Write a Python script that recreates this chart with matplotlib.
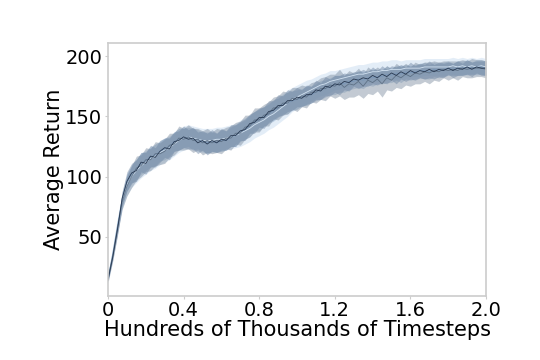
import numpy as np
import matplotlib
matplotlib.use("Agg")
import matplotlib.pyplot as plt

# x positions: hundreds of thousands of timesteps
x = np.linspace(0, 2.0, 81)

mean_navy = [14,33,56,82,96, 103,105,112,111,117, 116,121,124,123,129, 130,133,131,132,128,
             130,127,130,128,131, 130,134,134,138,139, 144,145,149,149,154, 155,159,159,163,163,
             166,165,168,168,172, 171,175,174,177,176, 179,178,181,180,182, 181,184,182,185,183,
             186,184,187,185,188, 186,188,187,189,187, 189,188,190,188,190, 189,191,189,191,190, 190]
mean_gray = [16,34,57,79,92, 100,107,109,114,114, 119,119,121,126,127, 132,131,133,130,131,
             128,130,128,130,129, 132,132,136,136,141, 142,147,147,151,152, 157,157,161,161,165,
             164,167,166,170,170, 173,173,176,175,178, 174,177,176,179,175, 180,178,181,177,182,
             180,184,182,185,183, 186,185,187,186,188, 187,189,188,189,188, 190,189,190,190,190, 189]
mean_steel = [15,36,59,81,95, 102,106,111,113,116, 118,121,123,125,129, 131,132,133,131,131,
              129,128,129,128,130, 130,133,134,137,139, 142,146,147,150,152, 155,157,160,161,163,
              164,166,167,168,170, 172,173,175,176,177, 177,179,179,181,180, 182,182,183,183,185,
              184,186,185,187,186, 187,188,188,187,189, 188,189,190,189,190, 190,191,190,191,191, 190]
mean_light = [16,37,60,80,93, 100,105,109,112,115, 117,120,122,124,127, 130,132,133,132,131,
              130,130,130,131,131, 132,133,134,136,138, 140,143,145,147,150, 152,155,158,161,164,
              166,168,170,172,174, 176,177,179,180,181, 182,183,184,185,185, 186,187,187,188,188,
              189,189,189,190,190, 190,190,191,191,191, 191,191,191,192,191, 192,191,192,191,192, 191]

spread_navy = [2,3,5,6,8, 8,9,8,9,9, 8,9,8,9,8, 8,9,8,9,9, 8,9,9,8,9, 8,9,9,8,9, 8,9,8,9,9, 8,9,8,9,8,
               8,7,8,7,8, 7,8,7,7,8, 7,7,6,7,7, 6,7,6,7,6, 6,7,6,6,7, 6,6,6,7,6, 6,6,5,6,6, 5,6,6,5,6, 6]
spread_gray = [2,3,5,6,8, 9,10,9,10,9, 10,9,10,10,9, 10,9,10,10,9, 10,10,9,10,10, 9,10,9,10,10, 9,10,10,9,10, 9,10,10,9,9,
               10,9,9,8,9, 9,10,9,10,11, 10,11,10,11,10, 11,10,10,11,10, 9,10,9,9,8, 9,8,8,9,8, 8,7,8,7,8, 7,7,8,7,7, 7]
spread_steel = [2,3,5,6,7, 8,8,9,8,8, 9,8,9,8,8, 9,8,8,9,8, 8,9,8,8,9, 8,8,9,8,8, 9,8,9,8,8, 9,8,8,9,8,
                8,7,8,7,7, 8,7,7,8,7, 7,7,6,7,7, 6,7,6,6,7, 6,6,7,6,6, 6,6,7,6,6, 6,6,6,5,6, 6,6,5,6,6, 6]
spread_light = [3,4,6,7,9, 9,10,10,10,10, 10,10,10,10,10, 10,10,10,10,10, 10,10,10,10,10, 10,10,10,11,11, 11,11,11,11,11, 11,11,11,11,10,
                10,10,10,9,9, 9,9,9,8,8, 8,8,8,8,8, 8,8,8,8,8, 8,8,7,7,7, 7,7,7,7,7, 7,7,7,7,7, 7,7,7,7,7, 7]

series = [
    (mean_light, spread_light, "#c3d8ee", "#dbeaf8"),
    (mean_steel, spread_steel, "#8eabca", "#7896b8"),
    (mean_gray, spread_gray, "#7a8b9e", "#5a6c80"),
    (mean_navy, spread_navy, "#6c84a2", "#1e2e46"),
]

xticks = [0, 0.4, 0.8, 1.2, 1.6, 2.0]
xticklabels = ["0", "0.4", "0.8", "1.2", "1.6", "2.0"]
yticks = [50, 100, 150, 200]

fig = plt.figure(figsize=(5.4, 3.6), dpi=100)
ax = fig.add_axes([0.2, 0.178, 0.7, 0.703])

for m, s, fc, lc in series:
    m = np.array(m, dtype=float)
    s = np.array(s, dtype=float)
    ax.fill_between(x, m - s, m + s, color=fc, alpha=0.45, linewidth=0)
for m, s, fc, lc in series:
    ax.plot(x, m, color=lc, lw=0.6, alpha=0.9)

ax.set_xlim(0, 2.0)
ax.set_ylim(1, 211)
ax.set_xticks(xticks)
ax.set_xticklabels(xticklabels)
ax.set_yticks(yticks)
ax.tick_params(axis="both", labelsize=14, length=2, color="#cccccc", pad=2)
for sp in ax.spines.values():
    sp.set_color("#cccccc")
    sp.set_linewidth(1.2)
ax.set_xlabel("Hundreds of Thousands of Timesteps", fontsize=15, labelpad=0)
ax.set_ylabel("Average Return", fontsize=15, labelpad=1)

fig.savefig("out.png", dpi=100)
